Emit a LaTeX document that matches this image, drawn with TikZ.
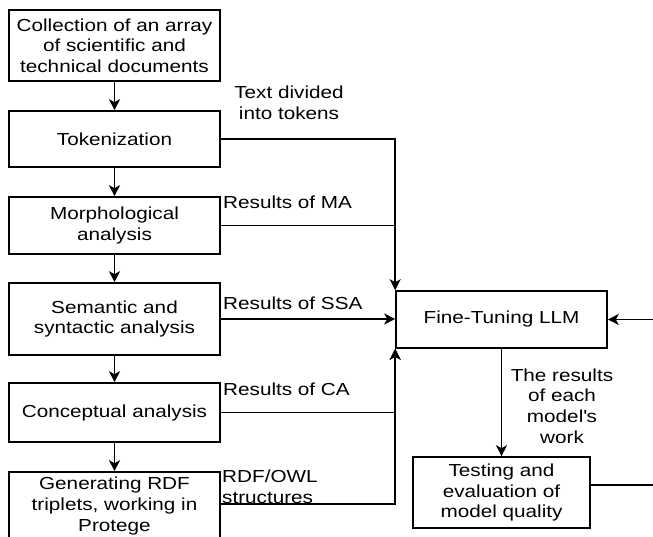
\documentclass[tikz,border=0pt]{standalone}
\usepackage{fontspec}
\setmainfont[FakeStretch=1.19]{Liberation Sans}
\usetikzlibrary{arrows.meta}
\begin{document}
\begin{tikzpicture}[x=1pt,y=-1pt,
  every node/.style={font=\fontsize{17.4}{20.6}\selectfont},
  box/.style={draw,line width=1.6pt,align=center,inner sep=0pt,minimum width=211pt},
  lbl/.style={align=left,inner sep=0pt,anchor=west},
  conn/.style={line width=1.6pt},
  arr/.style={conn,-{Stealth[length=11pt,width=11pt,inset=3pt]}}]
\clip (0,0) rectangle (653,537);
\node[box,minimum height=71pt] (coll) at (114.5,45.5) {Collection of an array\\of scientific and\\technical documents};
\node[box,minimum height=56pt] (tok) at (114.5,139) {Tokenization};
\node[box,minimum height=57pt] (morph) at (114.5,225.5) {Morphological\\analysis};
\node[box,minimum height=72pt] (sem) at (114.5,319) {Semantic and\\syntactic analysis};
\node[box,minimum height=59pt] (conc) at (114.5,412.5) {Conceptual analysis};
\node[box,minimum height=68pt] (gen) at (114.5,506) {Generating RDF\\triplets, working in\\Protege};
\node[box,minimum height=57pt] (ft) at (501.5,319.5) {Fine-Tuning LLM};
\node[box,minimum width=177pt,minimum height=71pt] (test) at (501.5,492.5) {Testing and\\evaluation of\\model quality};
\coordinate (rin) at (653,319.5);
\coordinate (rout) at (653,485);
% vertical chain
\draw[arr] (coll) -- (tok);
\draw[arr] (tok) -- (morph);
\draw[arr] (morph) -- (sem);
\draw[arr] (sem) -- (conc);
\draw[arr] (conc) -- (gen);
% into fine-tuning
\draw[arr] (tok.east) -| (ft.north west);
\draw[conn] (morph.east) -- (morph.east -| ft.west);
\draw[arr] (sem.east) -- (sem.east -| ft.west);
\draw[arr] (conc.east) -| (ft.south west);
\draw[arr] ([yshift=2pt]gen.east) -| (ft.south west);
\draw[arr] (ft.south) -- (test.north);
\draw[arr] (rin) -- (ft.east);
\draw[conn] (rout -| test.east) -- (rout);
% labels
\node[align=center,inner sep=0pt] (l1) at (289,103) {Text divided\\into tokens};
\node[lbl] (l2) at (223,202) {Results of MA};
\node[lbl] (l3) at (223,303) {Results of SSA};
\node[lbl] (l4) at (223,389) {Results of CA};
\node[lbl] (l5) at (222,487) {RDF/OWL\\structures};
\node[align=center,inner sep=0pt] (l6) at (562,406) {The results\\of each\\model\textquotesingle s\\work};
\end{tikzpicture}
\end{document}
